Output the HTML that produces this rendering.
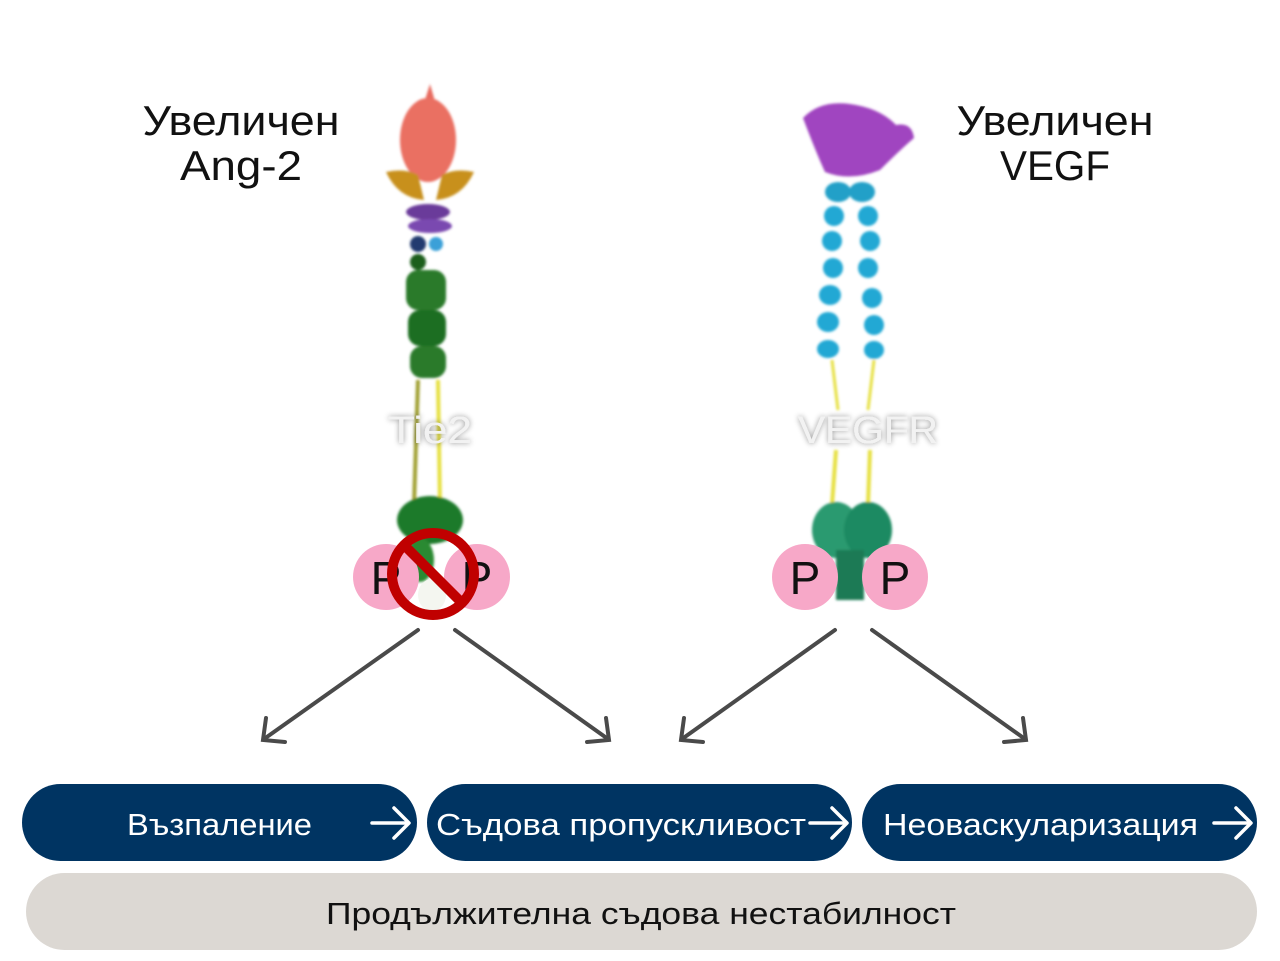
<!DOCTYPE html>
<html><head><meta charset="utf-8"><style>
html,body{margin:0;padding:0;background:#fff;}
svg{display:block;font-family:"Liberation Sans","DejaVu Sans",sans-serif;}
</style></head><body>
<svg width="1280" height="961" viewBox="0 0 1280 961" xmlns="http://www.w3.org/2000/svg">
<defs>
<filter id="blur" x="-20%" y="-20%" width="140%" height="140%"><feGaussianBlur stdDeviation="1.2"/></filter>
<filter id="glow" x="-20%" y="-40%" width="140%" height="180%"><feGaussianBlur in="SourceAlpha" stdDeviation="3" result="b"/><feFlood flood-color="#000" flood-opacity="0.45"/><feComposite in2="b" operator="in"/><feMerge><feMergeNode/><feMergeNode in="SourceGraphic"/></feMerge></filter>
</defs>

<!-- titles -->
<g font-size="42" fill="#111" text-anchor="middle">
<text x="241" y="135" textLength="197" lengthAdjust="spacingAndGlyphs">Увеличен</text>
<text x="241" y="180" textLength="122" lengthAdjust="spacingAndGlyphs">Ang-2</text>
<text x="1055" y="135" textLength="197" lengthAdjust="spacingAndGlyphs">Увеличен</text>
<text x="1055" y="180" textLength="110" lengthAdjust="spacingAndGlyphs">VEGF</text>
</g>

<!-- Left protein: Tie2 -->
<g filter="url(#blur)">
<path d="M406 160 L430 84 L452 160 Z" fill="#e86a5e"/>
<ellipse cx="428" cy="140" rx="28" ry="42" fill="#ea6f62"/>
<path d="M386 172 Q405 168 418 175 L424 200 Q398 198 386 172 Z" fill="#c8901e"/>
<path d="M474 172 Q455 168 442 175 L436 200 Q462 198 474 172 Z" fill="#c8901e"/>
<ellipse cx="428" cy="212" rx="22" ry="8" fill="#6a3a9a"/>
<ellipse cx="430" cy="226" rx="22" ry="7" fill="#7a48b0"/>
<circle cx="418" cy="244" r="8" fill="#203a70"/><circle cx="436" cy="244" r="7" fill="#3aa0d8"/>
<circle cx="418" cy="262" r="8" fill="#1f5e1f"/>
<rect x="406" y="270" width="40" height="40" rx="12" fill="#2a7a2a"/>
<rect x="408" y="310" width="38" height="36" rx="12" fill="#1f6e24"/>
<rect x="410" y="346" width="36" height="32" rx="12" fill="#2a7a2a"/>
<line x1="418" y1="380" x2="414" y2="505" stroke="#a0a030" stroke-width="4"/>
<line x1="438" y1="380" x2="440" y2="505" stroke="#e6e040" stroke-width="4"/>
<ellipse cx="430" cy="520" rx="33" ry="24" fill="#1f7a2a"/>
<ellipse cx="420" cy="560" rx="14" ry="22" fill="#2a8a30"/>
</g>
<text x="430" y="443" font-size="38" fill="#f2f2f2" text-anchor="middle" filter="url(#glow)" textLength="84" lengthAdjust="spacingAndGlyphs">Tie2</text>

<!-- Right protein: VEGFR -->
<g filter="url(#blur)">
<path d="M803 118 Q820 100 850 104 Q880 108 896 125 Q912 122 914 138 Q900 150 880 170 Q850 182 825 172 Q815 150 803 118 Z" fill="#a044c0"/>
<ellipse cx="838" cy="192" rx="13" ry="10" fill="#22a0c8"/><ellipse cx="862" cy="192" rx="13" ry="10" fill="#22a0c8"/>
<g fill="#20a8d4">
<ellipse cx="834" cy="216" rx="10" ry="10"/><ellipse cx="868" cy="216" rx="10" ry="10"/>
<ellipse cx="832" cy="241" rx="10" ry="10"/><ellipse cx="870" cy="241" rx="10" ry="10"/>
<ellipse cx="833" cy="268" rx="10" ry="10"/><ellipse cx="868" cy="268" rx="10" ry="10"/>
<ellipse cx="830" cy="295" rx="11" ry="10"/><ellipse cx="872" cy="298" rx="10" ry="10"/>
<ellipse cx="828" cy="322" rx="11" ry="10"/><ellipse cx="874" cy="325" rx="10" ry="10"/>
<ellipse cx="828" cy="349" rx="11" ry="9"/><ellipse cx="874" cy="350" rx="10" ry="9"/>
</g>
<line x1="832" y1="360" x2="838" y2="410" stroke="#e6e040" stroke-width="3"/>
<line x1="874" y1="360" x2="868" y2="410" stroke="#e6e040" stroke-width="3"/>
<line x1="836" y1="450" x2="832" y2="505" stroke="#e6e040" stroke-width="4"/>
<line x1="870" y1="450" x2="868" y2="505" stroke="#e6e040" stroke-width="4"/>
<ellipse cx="836" cy="530" rx="24" ry="28" fill="#2a9a70"/>
<ellipse cx="868" cy="530" rx="24" ry="28" fill="#1f8a62"/>
<rect x="836" y="550" width="28" height="50" fill="#1f7a55"/>
</g>
<text x="868" y="443" font-size="38" fill="#f2f2f2" text-anchor="middle" filter="url(#glow)" textLength="140" lengthAdjust="spacingAndGlyphs">VEGFR</text>

<!-- P circles -->
<g fill="#f7a8c8">
<circle cx="386" cy="577" r="33"/><circle cx="477" cy="577" r="33"/>
<circle cx="805" cy="577" r="33"/><circle cx="895" cy="577" r="33"/>
</g>
<g font-size="46" fill="#111" text-anchor="middle">
<text x="386" y="594">P</text><text x="477" y="594">P</text>
<text x="805" y="594">P</text><text x="895" y="594">P</text>
</g>
<!-- white/green stem under no-sign -->
<ellipse cx="432" cy="595" rx="14" ry="16" fill="#f4f6f0"/>
<!-- no sign -->
<circle cx="433" cy="574" r="41" fill="none" stroke="#c00000" stroke-width="10"/>
<line x1="405" y1="546" x2="461" y2="602" stroke="#c00000" stroke-width="10"/>

<!-- arrows -->
<g stroke="#4a4a4a" stroke-width="4" fill="none" stroke-linecap="round">
<line x1="418" y1="630" x2="264" y2="739"/><polyline points="266,718 263,740 285,742"/>
<line x1="455" y1="630" x2="608" y2="739"/><polyline points="606,718 609,740 587,742"/>
<line x1="835" y1="630" x2="682" y2="739"/><polyline points="684,718 681,740 703,742"/>
<line x1="872" y1="630" x2="1025" y2="739"/><polyline points="1023,718 1026,740 1004,742"/>
</g>

<!-- pills -->
<g fill="#003462">
<rect x="22" y="784" width="395" height="77" rx="38.5"/>
<rect x="427" y="784" width="425" height="77" rx="38.5"/>
<rect x="862" y="784" width="395" height="77" rx="38.5"/>
</g>
<rect x="26" y="873" width="1231" height="77" rx="38.5" fill="#dcd8d3"/>
<g font-size="31" fill="#fff">
<text x="127" y="835" textLength="185" lengthAdjust="spacingAndGlyphs">Възпаление</text>
<text x="436" y="835" textLength="370" lengthAdjust="spacingAndGlyphs">Съдова пропускливост</text>
<text x="883" y="835" textLength="315" lengthAdjust="spacingAndGlyphs">Неоваскуларизация</text>
</g>
<g stroke="#fff" stroke-width="3.5" fill="none" stroke-linecap="round" stroke-linejoin="round">
<line x1="372" y1="823" x2="408" y2="823"/><polyline points="394,808 409,823 394,838"/>
<line x1="810" y1="823" x2="846" y2="823"/><polyline points="832,808 847,823 832,838"/>
<line x1="1214" y1="823" x2="1250" y2="823"/><polyline points="1236,808 1251,823 1236,838"/>
</g>
<text x="641" y="924" font-size="31" fill="#111" text-anchor="middle" textLength="630" lengthAdjust="spacingAndGlyphs">Продължителна съдова нестабилност</text>
</svg>
</body></html>
